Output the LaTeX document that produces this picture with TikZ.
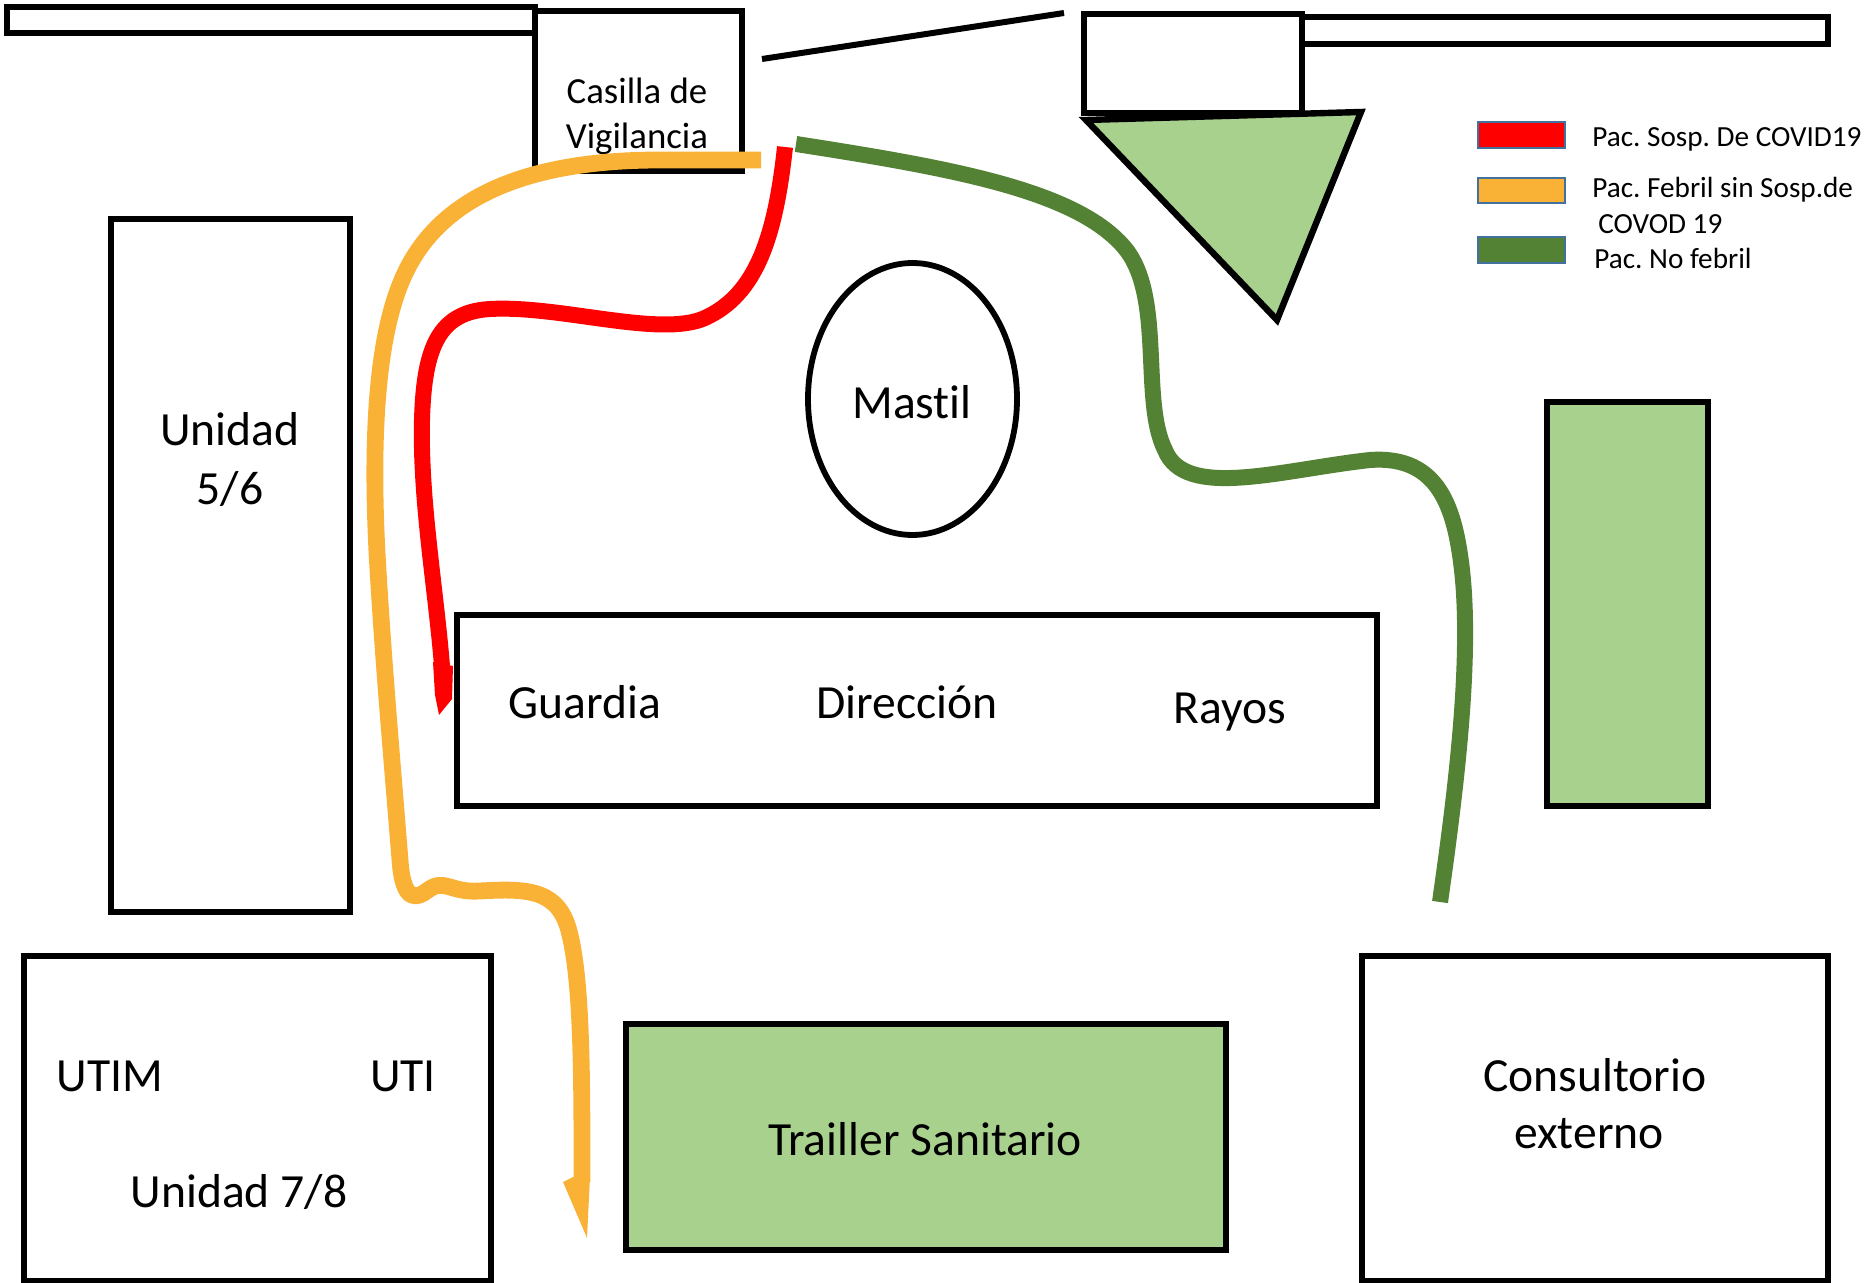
\documentclass[tikz,border=0pt]{standalone}
\usepackage{fontspec}
\setmainfont[RawFeature={-liga;-clig}]{Carlito}
\definecolor{lgreen}{HTML}{A9D18E}
\definecolor{dgreen}{HTML}{548235}
\definecolor{orng}{HTML}{F9B236}
\definecolor{lborder}{HTML}{41719C}
\tikzset{
  wall/.style={draw=black,line width=2.9pt,miter limit=10},
  room/.style={wall,fill=white},
  planted/.style={wall,fill=lgreen},
  bigtext/.style={inner sep=0pt,font=\frenchspacing\fontsize{23.8}{26}\selectfont,text=black},
  midtext/.style={inner sep=0pt,font=\frenchspacing\fontsize{18.4}{20}\selectfont,text=black},
  legtext/.style={inner sep=0pt,anchor=west,font=\frenchspacing\fontsize{14.6}{16}\selectfont,text=black},
  legbox/.style={draw=lborder,line width=1pt},
  route/.style={line width=8pt,line cap=butt,line join=round},
}
\begin{document}
\begin{tikzpicture}[x=0.5pt,y=-0.5pt]
\useasboundingbox (0,0) rectangle (1865,1283);
% top walls
\draw[room] (7,7) rectangle (535,33);
\draw[room] (535,11) rectangle (742,171);
\draw[room] (1302,17) rectangle (1828,44);
\draw[room] (1084,14) rectangle (1302,113);
\coordinate (gateA) at (762,59);
\coordinate (gateB) at (1064,13);
\draw[line width=3pt] (gateA) -- (gateB);
\draw[planted,line width=3.2pt] (1086,120) -- (1361,112) -- (1277,320) -- cycle;
% rooms
\draw[room] (111,219) rectangle (350,912);
\draw[room] (24,956) rectangle (491,1281);
\draw[planted] (626,1024) rectangle (1226,1250);
\draw[room] (1362,956) rectangle (1828,1281);
\draw[planted] (1547,402) rectangle (1708,806);
\draw[room] (457,615) rectangle (1377,806);
\draw[wall,fill=white] (912.5,399) ellipse (104.5 and 136);
% labels
\node[midtext] (casA) at (637,91) {Casilla de};
\node[midtext] (casB) at (637,139) {Vigilancia};
\node[bigtext] (uniA) at (230,429) {Unidad};
\node[bigtext] (uniB) at (230,489) {5/6};
\node[bigtext] (mastil) at (912,402) {Mastil};
\node[bigtext] (guardia) at (585,702) {Guardia};
\node[bigtext] (direc) at (907,702) {Dirección};
\node[bigtext] (rayos) at (1230,712) {Rayos};
\node[bigtext] (utim) at (110,1076) {UTIM};
\node[bigtext] (uti) at (403,1076) {UTI};
\node[bigtext] (uni78) at (239,1192) {Unidad 7/8};
\node[bigtext] (trailer) at (925,1139) {Trailler Sanitario};
\node[bigtext] (consA) at (1595,1075) {Consultorio};
\node[bigtext] (consB) at (1589,1134) {externo};
% routes
\draw[route,orng,line width=8.4pt] (761,160) -- (660,160)
  .. controls (540,160) and (440,190) .. (402,280)
  .. controls (372,350) and (372,470) .. (378,570)
  .. controls (384,670) and (392,760) .. (400,860)
  .. controls (403,905) and (418,898) .. (428,890)
  .. controls (445,878) and (450,893) .. (480,891)
  .. controls (530,888) and (560,890) .. (570,935)
  .. controls (582,985) and (582,1080) .. (582,1182);
\fill[orng] (573,1177) -- (563,1182) -- (587,1238) -- (590,1177) -- cycle;
\draw[route,red] (785,147)
  .. controls (775,240) and (755,295) .. (705,318)
  .. controls (660,338) and (560,305) .. (490,309)
  .. controls (440,312) and (424,345) .. (422,420)
  .. controls (420,500) and (436,590) .. (442,666);
\fill[red] (433,662) -- (453,666) -- (452,699) -- (439,715) -- (435,695) -- cycle;
\draw[route,dgreen] (796,144)
  .. controls (950,168) and (1075,190) .. (1124,247)
  .. controls (1165,295) and (1140,400) .. (1165,450)
  .. controls (1185,500) and (1280,470) .. (1370,460)
  .. controls (1440,455) and (1455,510) .. (1462,570)
  .. controls (1472,660) and (1456,790) .. (1440,902);
% legend
\draw[legbox,fill=red] (1478,122) rectangle (1565,148);
\draw[legbox,fill=orng] (1478,178) rectangle (1565,203);
\draw[legbox,fill=dgreen] (1478,237) rectangle (1565,263);
\node[legtext] (legA) at (1592,139) {Pac. Sosp. De COVID19};
\node[legtext] (legB) at (1592,190) {Pac. Febril sin Sosp.de};
\node[legtext] (legC) at (1598,224) {COVOD 19};
\node[legtext] (legD) at (1594,258) {Pac. No febril};
\end{tikzpicture}
\end{document}
